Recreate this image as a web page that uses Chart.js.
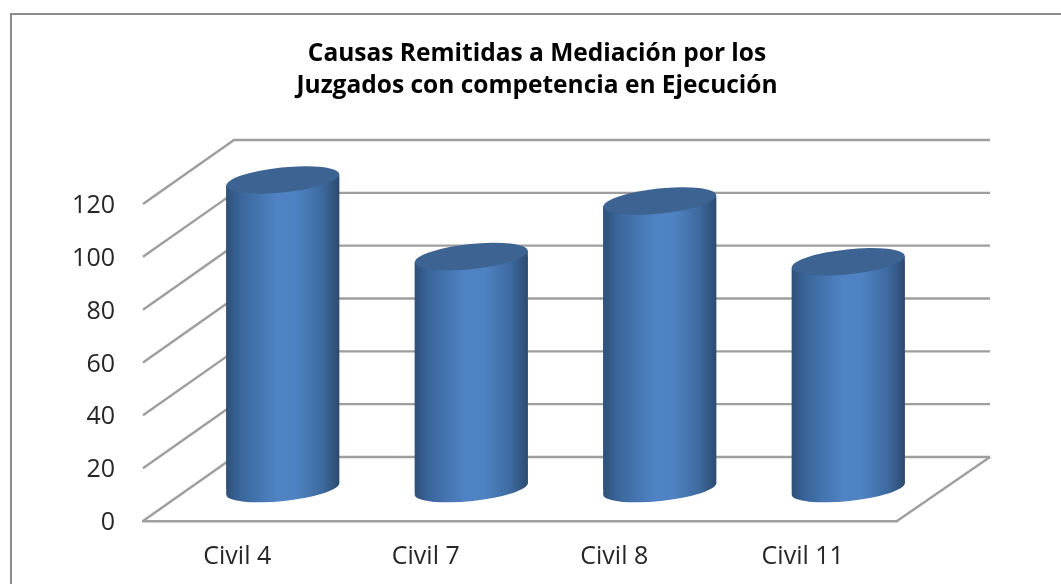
<!DOCTYPE html>
<html lang="es">
<head>
<meta charset="utf-8">
<style>
html,body{margin:0;padding:0;background:#fff;overflow:hidden}
#wrap{position:relative;width:1061px;height:584px}
#frame{position:absolute;left:10px;top:13px;right:0;bottom:0;border-top:2px solid #8c8c8c;border-left:2px solid #8c8c8c}
canvas{position:absolute;left:0;top:0;filter:blur(0.6px)}
</style>
<script src="https://cdn.jsdelivr.net/npm/chart.js@4"></script>
</head>
<body>
<div id="wrap"><div id="frame"></div><canvas id="c" width="1061" height="584"></canvas></div>
<script>
const categories = ['Civil 4', 'Civil 7', 'Civil 8', 'Civil 11'];
const causas = [117, 88, 109, 86];
const titleLines = ['Causas Remitidas a Mediación por los', 'Juzgados con competencia en Ejecución'];

const DEPTH_X = 91, DEPTH_Y = -64;
const GRID = '#9e9e9e';
const TILT = -6 * Math.PI / 180;
const SLANT = 5.6;

function barFill(ctx) {
  const chart = ctx.chart, sx = chart.scales.x;
  if (!chart.chartArea || !sx || ctx.dataIndex === undefined) return '#4a7ebb';
  const c = sx.getPixelForValue(ctx.dataIndex), w = sx.width / categories.length * 0.6;
  const g = chart.ctx.createLinearGradient(c - w / 2, 0, c + w / 2, 0);
  g.addColorStop(0, '#2f5077');
  g.addColorStop(0.12, '#39659a');
  g.addColorStop(0.45, '#5083c4');
  g.addColorStop(0.62, '#4f82c2');
  g.addColorStop(0.85, '#3d6a9f');
  g.addColorStop(1, '#2c4a70');
  return g;
}

function bodyPath(ctx, bar) {
  const l = bar.x - bar.width / 2, r = bar.x + bar.width / 2;
  ctx.moveTo(l, bar.y + SLANT);
  ctx.lineTo(r, bar.y - SLANT);
  ctx.lineTo(r, bar.base - SLANT);
  ctx.lineTo(l, bar.base + SLANT);
  ctx.closePath();
}

const cylinder3d = {
  id: 'cylinder3d',
  beforeDraw(chart) {
    chart.scales.y.getLabelItems().forEach(item => { item.options.translation[1] += 2; });
  },
  beforeDatasetsDraw(chart) {
    const { ctx, scales: { x, y } } = chart;
    ctx.save();
    ctx.strokeStyle = GRID;
    ctx.lineWidth = 2.4;
    y.ticks.forEach(t => {
      const py = y.getPixelForValue(t.value);
      ctx.beginPath();
      ctx.moveTo(x.left, py);
      ctx.lineTo(x.left + DEPTH_X, py + DEPTH_Y);
      ctx.lineTo(x.right + DEPTH_X + 2, py + DEPTH_Y);
      ctx.stroke();
    });
    const y0 = y.getPixelForValue(0);
    ctx.beginPath();
    ctx.moveTo(x.right + DEPTH_X + 2, y0 + DEPTH_Y);
    ctx.lineTo(x.right, y0);
    ctx.stroke();
    ctx.restore();
    ctx.save();
    ctx.translate(DEPTH_X / 2, DEPTH_Y / 2);
    ctx.beginPath();
    chart.getDatasetMeta(0).data.forEach(bar => bodyPath(ctx, bar));
    ctx.clip();
  },
  afterDatasetsDraw(chart) {
    const { ctx } = chart;
    ctx.restore();
    ctx.save();
    ctx.translate(DEPTH_X / 2, DEPTH_Y / 2);
    chart.getDatasetMeta(0).data.forEach(bar => {
      ctx.fillStyle = bar.options.backgroundColor;
      ctx.beginPath();
      bodyPath(ctx, bar);
      ctx.fill();
      ctx.beginPath();
      ctx.ellipse(bar.x, bar.base, bar.width / 2 + 0.2, 12, TILT, 0, Math.PI * 2);
      ctx.fill();
      ctx.fillStyle = '#3c6391';
      ctx.beginPath();
      ctx.ellipse(bar.x, bar.y, bar.width / 2 + 0.2, 12.5, TILT, 0, Math.PI * 2);
      ctx.fill();
    });
    ctx.restore();
  }
};

new Chart(document.getElementById('c'), {
  type: 'bar',
  plugins: [cylinder3d],
  data: {
    labels: categories,
    datasets: [{
      label: 'Causas',
      data: causas,
      clip: false,
      backgroundColor: barFill,
      borderWidth: 0,
      categoryPercentage: 1,
      barPercentage: 0.6
    }]
  },
  options: {
    responsive: false,
    animation: false,
    layout: { padding: { left: 13, right: 0, top: 0, bottom: 0 } },
    plugins: {
      legend: { display: false },
      tooltip: { enabled: false },
      title: {
        display: true,
        text: titleLines,
        color: '#000',
        font: { family: '"Open Sans"', size: 24.5, weight: 'bold', lineHeight: 1.306 },
        padding: { top: 38, bottom: 102 }
      }
    },
    scales: {
      x: {
        grid: { display: false },
        border: { color: GRID, width: 2.4 },
        ticks: { color: '#262626', font: { family: '"Open Sans"', size: 25 }, padding: 13, maxRotation: 0 },
        afterFit(s) { s.height = 63; }
      },
      y: {
        min: 0,
        max: 120,
        ticks: { stepSize: 20, color: '#262626', font: { family: '"Open Sans"', size: 25 }, padding: 20 },
        grid: { display: false },
        border: { display: false },
        afterFit(s) { s.width = 130; }
      },
      side: {
        position: 'right',
        display: true,
        grid: { display: false },
        border: { display: false },
        ticks: { display: false },
        afterFit(s) { s.width = 164; }
      }
    }
  }
});
</script>
</body>
</html>
